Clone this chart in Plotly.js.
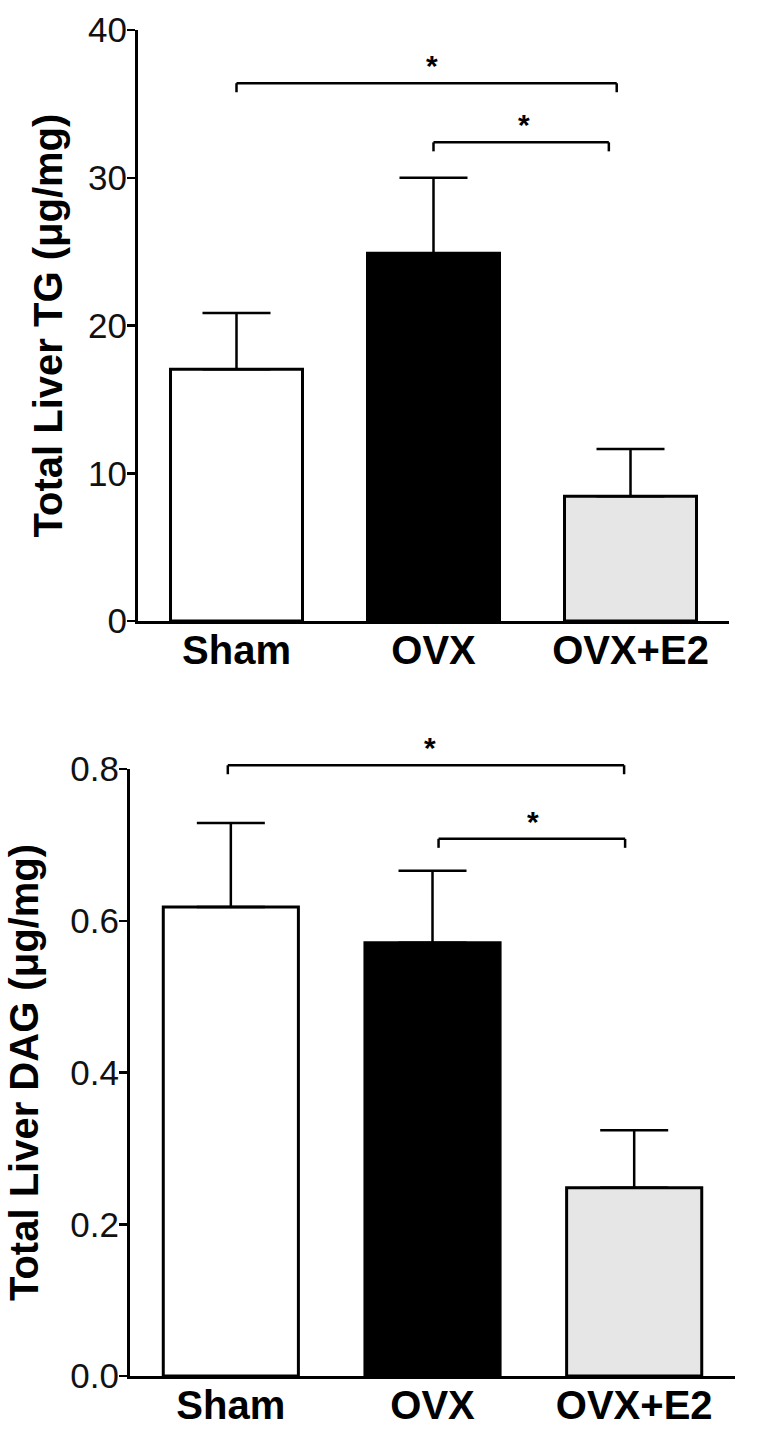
<!DOCTYPE html>
<html>
<head>
<meta charset="utf-8">
<script src="https://cdn.plot.ly/plotly-3.0.1.min.js"></script>
<style>html,body{margin:0;padding:0;background:#fff;}#chart{width:762px;height:1445px;}</style>
</head>
<body>
<div id="chart"></div>
<script>
const categories = ['Sham', 'OVX', 'OVX+E2'];
const tgMean = [17.05, 24.9, 8.45];
const tgErr = [3.8, 5.1, 3.2];
const dagMean = [0.618, 0.571, 0.248];
const dagErr = [0.111, 0.095, 0.076];
const barColors = ['#ffffff', '#000000', '#e6e6e6'];
const tgTickVals = [0, 10, 20, 30, 40];
const tgTickText = ['0', '10', '20', '30', '40'];
const dagTickVals = [0, 0.2, 0.4, 0.6, 0.8];
const dagTickText = ['0.0', '0.2', '0.4', '0.6', '0.8'];
// significance brackets: [from index, to index, height]
const tgBrackets = [[0, 1.93, 36.4], [1.0, 1.89, 32.4]];
const dagBrackets = [[-0.015, 1.95, 0.805], [1.03, 1.955, 0.708]];
const tgStars = [[0.99, 36.4], [1.46, 32.4]];
const dagStars = [[0.99, 0.805], [1.5, 0.708]];

const font = 'Liberation Sans, Arial, Helvetica, sans-serif';
const tgDomain = [0.5702, 0.9792], tgRange = [0, 40];
const dagDomain = [0.04775, 0.4678], dagRange = [0, 0.8];

function barTrace(vals, errs, xa, ya) {
  return {
    type: 'bar', x: categories, y: vals, xaxis: xa, yaxis: ya,
    width: 0.67,
    marker: {color: barColors, line: {color: '#000', width: 3}},
    error_y: {type: 'data', symmetric: false, array: errs, arrayminus: errs.map(() => 0),
              color: '#000', thickness: 2.5, width: 34},
    hoverinfo: 'skip', showlegend: false
  };
}

const shapes = [];
const annotations = [];
function addBrackets(list, stars, xr, dom, rng) {
  const toPaper = v => dom[0] + (v - rng[0]) / (rng[1] - rng[0]) * (dom[1] - dom[0]);
  const leg = 9 / 1445;
  list.forEach(b => {
    const line = {color: '#000', width: 2.5};
    const yp = toPaper(b[2]);
    shapes.push({type: 'line', xref: xr, yref: 'paper', x0: b[0], x1: b[1], y0: yp, y1: yp, line});
    shapes.push({type: 'line', xref: xr, yref: 'paper', x0: b[0], x1: b[0], y0: yp, y1: yp - leg, line});
    shapes.push({type: 'line', xref: xr, yref: 'paper', x0: b[1], x1: b[1], y0: yp, y1: yp - leg, line});
  });
  stars.forEach(s => {
    annotations.push({xref: xr, yref: 'paper', x: s[0], y: toPaper(s[1]), text: '*', showarrow: false,
      yanchor: 'bottom', yshift: -1, font: {family: font, size: 30, color: '#000', weight: 'bold'}});
  });
}
addBrackets(tgBrackets, tgStars, 'x', tgDomain, tgRange);
addBrackets(dagBrackets, dagStars, 'x2', dagDomain, dagRange);

const xCommon = {
  type: 'category', range: [-0.5, 2.5], showline: true, linewidth: 3, linecolor: '#000',
  ticks: '', showgrid: false, zeroline: false, fixedrange: true, ticklabelstandoff: -8,
  tickfont: {family: font, size: 40, color: '#000', weight: 'bold'}
};
const yCommon = {
  showline: true, linewidth: 3, linecolor: '#000', ticks: 'outside', ticklen: 8, tickwidth: 2.5,
  tickcolor: '#000', showgrid: false, zeroline: false, fixedrange: true, ticklabelstandoff: -7,
  tickfont: {family: font, size: 35, color: '#111'}
};

const layout = {
  width: 762, height: 1445,
  margin: {l: 0, r: 0, t: 0, b: 0},
  paper_bgcolor: '#fff', plot_bgcolor: '#fff',
  showlegend: false,
  xaxis: Object.assign({}, xCommon, {domain: [0.1811, 0.9567], anchor: 'y'}),
  yaxis: Object.assign({}, yCommon, {domain: tgDomain, anchor: 'x', range: tgRange,
    tickvals: tgTickVals, ticktext: tgTickText,
    title: {text: 'Total Liver TG (μg/mg)', standoff: 14,
      font: {family: font, size: 40, color: '#000', weight: 'bold'}}}),
  xaxis2: Object.assign({}, xCommon, {domain: [0.1706, 0.9646], anchor: 'y2'}),
  yaxis2: Object.assign({}, yCommon, {domain: dagDomain, anchor: 'x2', range: dagRange,
    tickvals: dagTickVals, ticktext: dagTickText,
    title: {text: 'Total Liver DAG (μg/mg)', standoff: 20,
      font: {family: font, size: 40, color: '#000', weight: 'bold'}}}),
  shapes: shapes,
  annotations: annotations
};

Plotly.newPlot('chart', [barTrace(tgMean, tgErr, 'x', 'y'), barTrace(dagMean, dagErr, 'x2', 'y2')],
  layout, {displayModeBar: false, staticPlot: true});
</script>
</body>
</html>
